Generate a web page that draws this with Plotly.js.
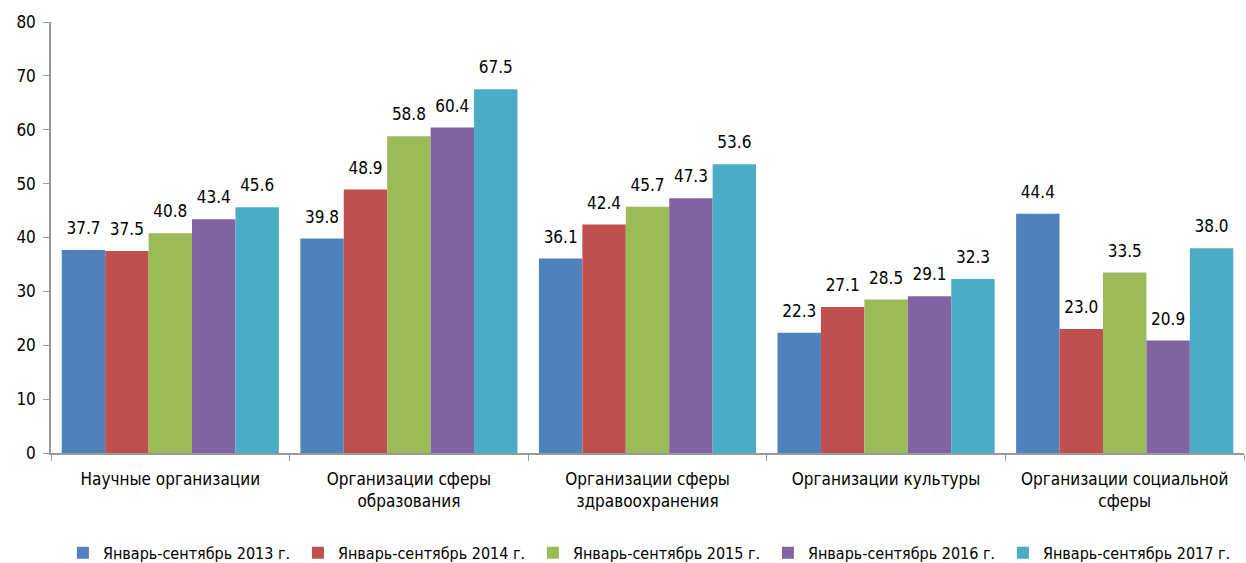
<!DOCTYPE html>
<html><head><meta charset="utf-8">
<script src="https://cdn.plot.ly/plotly-3.0.1.min.js"></script>
<style>html,body{margin:0;padding:0;background:#fff}#c{width:1246px;height:563px}</style>
</head><body><div id="c"></div>
<script>
const categories = ["Научные организации", "Организации сферы<br>образования", "Организации сферы<br>здравоохранения", "Организации культуры", "Организации социальной<br>сферы"];
const seriesNames = ["Январь-сентябрь 2013 г.", "Январь-сентябрь 2014 г.", "Январь-сентябрь 2015 г.", "Январь-сентябрь 2016 г.", "Январь-сентябрь 2017 г."];
const s2013 = [37.7, 39.8, 36.1, 22.3, 44.4];
const s2014 = [37.5, 48.9, 42.4, 27.1, 23.0];
const s2015 = [40.8, 58.8, 45.7, 28.5, 33.5];
const s2016 = [43.4, 60.4, 47.3, 29.1, 20.9];
const s2017 = [45.6, 67.5, 53.6, 32.3, 38.0];
const colors = ["#4F81BD", "#C0504D", "#9BBB59", "#8064A2", "#4BACC6"];
const all = [s2013, s2014, s2015, s2016, s2017];
const FONT = "'DejaVu Sans Condensed', 'DejaVu Sans', sans-serif";
const bars = all.map((vals, i) => ({
  type: 'bar', name: seriesNames[i], x: categories, y: vals,
  offsetgroup: 'g' + i, alignmentgroup: 'a',
  marker: {color: colors[i]}, hoverinfo: 'skip'
}));
const labels = all.map((vals, i) => ({
  type: 'scatter', mode: 'markers+text', x: categories, y: vals, showlegend: false,
  offsetgroup: 'g' + i, alignmentgroup: 'a',
  marker: {size: 17, opacity: 0}, cliponaxis: false,
  text: vals.map(v => v.toFixed(1)), textposition: 'top center',
  textfont: {family: FONT, size: 17, color: '#000'}, hoverinfo: 'skip'
}));
const layout = {
  width: 1246, height: 563,
  margin: {l: 51, r: 2, t: 22, b: 110},
  barmode: 'group', bargap: 0.09, bargroupgap: 0,
  scattermode: 'group', scattergap: 0.09,
  paper_bgcolor: '#fff', plot_bgcolor: '#fff',
  font: {family: FONT, size: 17, color: '#000'},
  xaxis: {type: 'category', showline: true, linecolor: '#999', linewidth: 1.5,
    ticks: 'outside', tickson: 'boundaries', ticklen: 6, tickcolor: '#999',
    ticklabelstandoff: 10,
    tickfont: {family: FONT, size: 17, color: '#000'}, showgrid: false},
  yaxis: {range: [0, 80], dtick: 10, showline: true, linecolor: '#999', linewidth: 1.5,
    ticks: 'outside', ticklen: 6, tickcolor: '#999', showgrid: false, zeroline: false,
    ticklabelstandoff: 4,
    tickfont: {family: FONT, size: 17, color: '#000'}},
  showlegend: true,
  legend: {orientation: 'h', x: 0.522, xanchor: 'center', xref: 'container',
    y: 0.018, yanchor: 'middle', yref: 'container',
    entrywidth: 190, entrywidthmode: 'pixels',
    font: {family: FONT, size: 16, color: '#000'}, itemwidth: 30, tracegroupgap: 0}
};
Plotly.newPlot('c', bars.concat(labels), layout, {displayModeBar: false});
</script></body></html>
